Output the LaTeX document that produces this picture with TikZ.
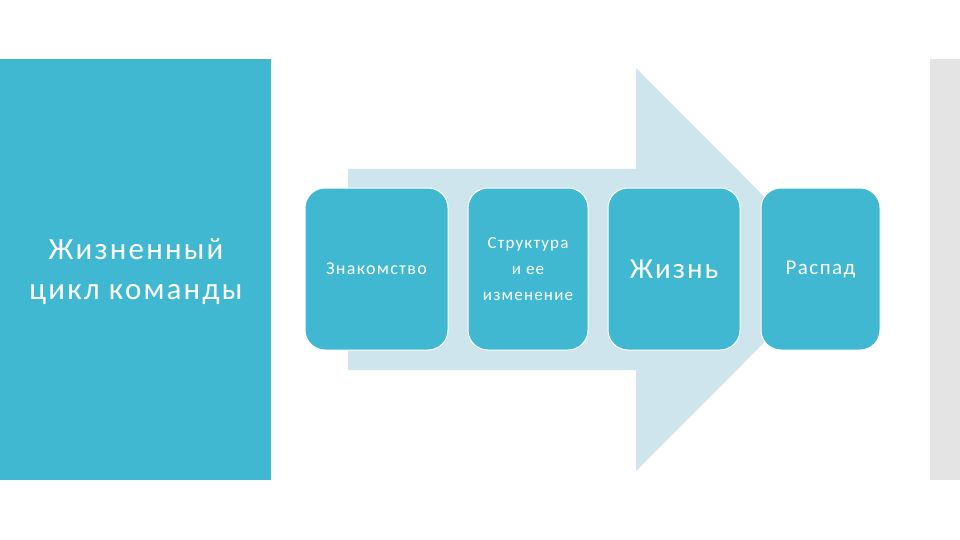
\documentclass[tikz,border=0pt]{standalone}
\usepackage{fontspec}
\setmainfont[LetterSpace=7]{Carlito}
\definecolor{teal}{HTML}{41B8D2}
\definecolor{arrowc}{HTML}{CFE5EE}
\definecolor{grayc}{HTML}{E4E4E4}
\begin{document}
\begin{tikzpicture}[x=1pt,y=-1pt,
  stage/.style={fill=teal,draw=white,line width=1pt,rounded corners=20pt,text=white,align=center,minimum height=162pt}]
\useasboundingbox (0,0) rectangle (960,540);
\fill[white] (0,0) rectangle (960,540);
% left panel
\fill[teal] (0,59) rectangle (271,480);
\node[text=white,align=center,font=\fontsize{31}{40}\selectfont] (title) at (136,272) {Жизненный\\цикл команды};
% gray bar
\fill[grayc] (930,59) rectangle (960,480);
% big arrow
\fill[arrowc] (348,169) -- (636,169) -- (636,68) -- (837,269.5) -- (636,471) -- (636,370) -- (348,370) -- cycle;
% stages
\node[stage,minimum width=143pt,font=\fontsize{18}{22}\selectfont] (s1) at (376.5,269) {Знакомство};
\node[stage,minimum width=120pt,font=\fontsize{17}{26}\selectfont] (s2) at (528,269) {Структура\\и ее\\изменение};
\node[stage,minimum width=132pt,font=\fontsize{29}{30}\selectfont] (s3) at (674,269) {Жизнь};
\node[stage,minimum width=119pt,font=\fontsize{21}{24}\selectfont] (s4) at (820.5,269) {Распад};
\end{tikzpicture}
\end{document}
